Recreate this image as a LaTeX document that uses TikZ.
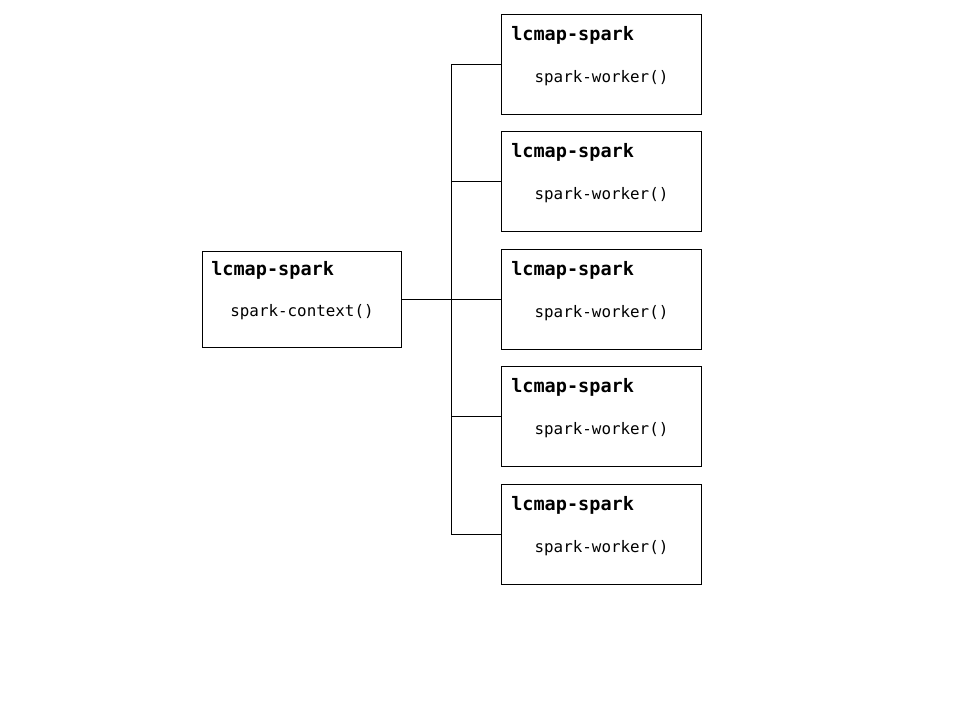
\documentclass[tikz,border=0pt]{standalone}
\usepackage{fontspec}
\setmonofont{DejaVu Sans Mono}
\begin{document}
\begin{tikzpicture}[x=0.75pt,y=-0.75pt,
  box/.style={draw=black,line width=0.75pt,rectangle,minimum width=150pt,inner sep=0pt,anchor=north west},
  ttl/.style={font=\ttfamily\bfseries\fontsize{13.9}{16}\selectfont,anchor=west,inner sep=0pt},
  body/.style={font=\ttfamily\fontsize{11.9}{14}\selectfont,inner sep=0pt},
  wire/.style={line width=0.75pt}]
\useasboundingbox (0,0) rectangle (960,720);
\node[box,minimum height=72pt,minimum width=149.25pt] (ctx) at (202,251) {};
\node[ttl] (ctxt) at ([xshift=6.75pt,yshift=-14.25pt]ctx.north west) {lcmap-spark};
\node[body] (ctxb) at ([yshift=-45.75pt]ctx.north) {spark-context()};
\foreach \i/\y in {1/14,2/131,3/249,4/366,5/484}{
  \node[box,minimum height=75pt] (w\i) at (501,\y) {};
  \node[ttl] (w\i t) at ([xshift=7.5pt,yshift=-15.75pt]w\i.north west) {lcmap-spark};
  \node[body] (w\i b) at ([yshift=-48pt]w\i.north) {spark-worker()};
}
\coordinate (bus) at (451,299);
\draw[wire] (ctx.east) -- (w3.west);
\draw[wire] (w1.west) -- (w1.west -| bus) -- (w5.west -| bus) -- (w5.west);
\draw[wire] (w2.west) -- (w2.west -| bus);
\draw[wire] (w4.west) -- (w4.west -| bus);
\end{tikzpicture}
\end{document}
